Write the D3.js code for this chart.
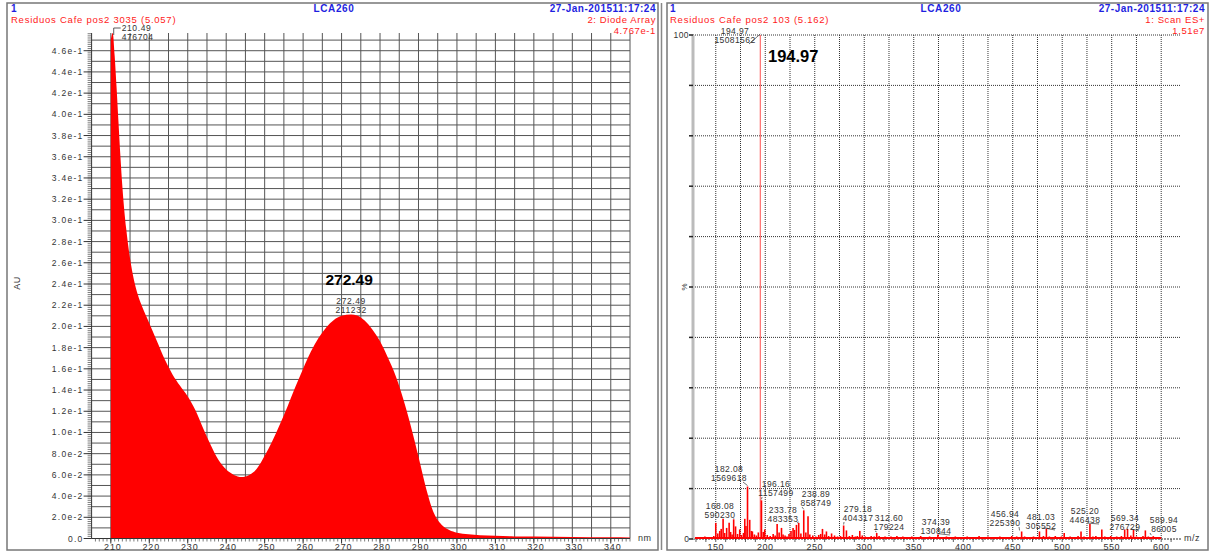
<!DOCTYPE html>
<html><head><meta charset="utf-8">
<script src="https://cdn.jsdelivr.net/npm/d3@7"></script>
<style>
body{margin:0;background:#fff;}
text{font-family:"Liberation Sans",Arial,sans-serif;}
</style></head>
<body><svg id="c" width="1211" height="552"></svg>
<script>
// ---------- DATA ----------
// UV (diode array) spectrum: wavelength (nm) and absorbance (AU)
const uvWavelength = [210.0,210.49,211.0,211.5,212.0,212.5,213.0,214.0,215.0,216.0,217.0,218.0,220.0,222.0,224.0,226.0,228.0,230.0,232.0,234.0,236.0,238.0,240.0,242.0,244.0,246.0,248.0,250.0,252.0,254.0,256.0,258.0,260.0,262.0,264.0,266.0,268.0,270.0,272.49,274.0,276.0,278.0,280.0,282.0,284.0,286.0,288.0,290.0,292.0,294.0,296.0,298.0,300.0,303.0,306.0,310.0,315.0,320.0,330.0,340.0,345.0];
const uvAbsorbance = [0.470,0.4767,0.455,0.425,0.392,0.360,0.332,0.292,0.264,0.244,0.230,0.220,0.203,0.186,0.169,0.155,0.144,0.134,0.121,0.104,0.088,0.074,0.065,0.060,0.058,0.060,0.066,0.078,0.092,0.108,0.125,0.143,0.160,0.176,0.189,0.199,0.206,0.210,0.2112,0.2103,0.2055,0.197,0.186,0.171,0.154,0.132,0.106,0.077,0.047,0.024,0.013,0.008,0.0055,0.004,0.003,0.0025,0.002,0.0018,0.0015,0.0012,0.001];
const uvXTicks = [210,220,230,240,250,260,270,280,290,300,310,320,330,340];
const uvYTickValues = [0,0.02,0.04,0.06,0.08,0.10,0.12,0.14,0.16,0.18,0.20,0.22,0.24,0.26,0.28,0.30,0.32,0.34,0.36,0.38,0.40,0.42,0.44,0.46];
const uvYTickLabels = ["0.0","2.0e-2","4.0e-2","6.0e-2","8.0e-2","1.0e-1","1.2e-1","1.4e-1","1.6e-1","1.8e-1","2.0e-1","2.2e-1","2.4e-1","2.6e-1","2.8e-1","3.0e-1","3.2e-1","3.4e-1","3.6e-1","3.8e-1","4.0e-1","4.2e-1","4.4e-1","4.6e-1"];
const uvPeakNm = [210.49, 272.49];
const uvPeakHeight = ["476704", "211232"];

// Mass spectrum: m/z and relative intensity (%)
const msMz = [130,133,136,139,142,145,148,150,152,154,155.5,157.4,159,161,163.5,165,166.5,168.08,170,172,174.2,176,178,179.3,180.5,182.08,184.3,186,187,189,191,193,194.97,196.16,198,199.5,202,205,208,210,212,214,216.4,218,220,222,224,226,228.1,229.5,231.5,233.78,236,238.89,241,243.2,245,248,251,254,256,257.8,260,261.8,264,267,270,273,276,279.18,282,285,288,291,293,295.5,298,301,304,307,310,312.6,315,318,321,324,327,330,333,336,339,342,345,348,351,354,357,360,363,366,369,372,374.39,377,380,383,386,389,392,395,398,401,404,407,410,413,416,419,422,425,428,431,434,437,440,443,446,449,452,454,456.94,459,462,465,468,471,474,477,481.03,484,487,490,493,496,499.2,502,505,508,511,514,516,519,522,525.2,528,531,534,537.9,540,543,546,549,552,555,557,559.8,563.1,566,569.34,572,575,578,581.6,584,587,589.94,592,595,598];
const msPct = [0.3,0.4,0.3,0.5,0.4,0.3,0.6,3.2,1.1,1.6,2.0,4.0,1.2,2.2,3.2,1.4,0.9,3.91,2.5,1.0,1.9,0.8,1.2,4.0,2.6,10.41,3.8,1.6,1.5,0.9,0.7,1.3,100,7.67,1.4,1.9,0.8,0.6,1.0,0.7,3.0,1.3,2.2,0.9,0.7,0.5,1.0,1.6,2.2,1.8,2.8,3.20,1.1,5.69,1.3,4.5,0.9,0.7,0.5,0.8,1.0,2.0,0.9,1.5,0.6,1.1,0.7,0.5,0.6,2.68,1.7,0.6,0.8,0.5,0.6,1.6,0.7,0.5,0.4,0.6,0.5,1.19,0.6,0.4,0.5,0.3,0.5,0.4,0.6,0.3,0.5,0.4,0.3,0.5,0.4,0.3,0.6,0.4,0.3,0.5,0.4,0.3,0.87,0.4,0.3,0.5,0.3,0.4,0.5,0.3,0.4,0.3,0.5,0.4,0.3,0.4,0.6,0.3,0.4,0.5,0.3,0.4,0.3,0.5,0.4,0.3,0.4,0.6,0.3,0.5,0.4,1.49,0.5,0.4,0.3,0.5,0.4,1.5,0.6,2.03,0.5,0.4,0.6,0.3,0.5,1.2,0.4,0.5,0.3,0.4,0.6,1.5,0.5,0.4,2.96,0.5,0.6,0.4,1.9,0.5,0.4,0.6,0.3,0.5,0.4,0.6,1.9,2.0,0.7,1.83,0.5,0.4,0.6,1.7,0.5,0.4,0.57,0.4,0.3,0.2];
const msXTicks = [150,200,250,300,350,400,450,500,550,600];
const msPeakMz = [194.97,182.08,196.16,168.08,233.78,238.89,279.18,312.60,374.39,456.94,481.03,525.20,569.34,589.94];
const msPeakPct = [100,10.41,7.67,3.91,3.20,5.69,2.68,1.19,0.87,1.49,2.03,2.96,1.83,0.57];
const msPeakCounts = ["15081562","1569618","1157499","590230","483353","858749","404317","179224","130844","225390","305552","446438","276729","86005"];

// ---------- LAYOUT (positions / styles only) ----------
const blue = "#1f1fe0", red = "#ff1a1a", dark = "#333";
const svg = d3.select("#c");

// panel frames
svg.append("rect").attr("x",7).attr("y",3).attr("width",651).attr("height",547)
  .attr("fill","none").attr("stroke","#777").attr("stroke-width",1.5);
svg.append("rect").attr("x",667).attr("y",3).attr("width",541).attr("height",547)
  .attr("fill","none").attr("stroke","#777").attr("stroke-width",1.5);
svg.append("line").attr("x1",661.5).attr("x2",661.5).attr("y1",3).attr("y2",550).attr("stroke","#888").attr("stroke-width",1.5);

function txt(x,y,s,o){
  const t = svg.append("text").attr("x",x).attr("y",y).text(s)
    .attr("font-size",o.size||10).attr("fill",o.fill||dark)
    .attr("text-anchor",o.anchor||"start");
  if(o.bold) t.attr("font-weight","bold");
  if(o.ls) t.attr("letter-spacing",o.ls);
  return t;
}

// ===== LEFT: UV spectrum =====
const uvX = d3.scaleLinear().domain([205,345]).range([91.6,630]);
const uvY = d3.scaleLinear().domain([0,0.4767]).range([538.5,33]);

txt(11,12,"1",{fill:blue,bold:true,size:10});
txt(334,12,"LCA260",{fill:blue,bold:true,size:10,anchor:"middle",ls:0.6});
txt(656,12,"27-Jan-201511:17:24",{fill:blue,bold:true,size:10,anchor:"end",ls:0.5});
txt(11,22.5,"Residuos Cafe pos2 3035 (5.057)",{fill:red,size:9.5,ls:0.75});
txt(656,22.5,"2: Diode Array",{fill:red,size:9.5,anchor:"end",ls:0.6});
txt(656,33.5,"4.767e-1",{fill:red,size:9.5,anchor:"end",ls:0.6});

const gUV = svg.append("g");
// grid
const uvVGrid = d3.range(210,346,5);
gUV.selectAll(".vg").data(uvVGrid).join("line")
  .attr("x1",d=>uvX(d)).attr("x2",d=>uvX(d)).attr("y1",uvY(0.4767)).attr("y2",uvY(0))
  .attr("stroke","#555").attr("stroke-width",1);
const uvHGrid = d3.range(0.01,0.475,0.01);
gUV.selectAll(".hg").data(uvHGrid).join("line")
  .attr("x1",uvX(205)).attr("x2",uvX(345)).attr("y1",d=>uvY(d)).attr("y2",d=>uvY(d))
  .attr("stroke","#555").attr("stroke-width",1);

// area
const uvData = uvWavelength.map((w,i)=>[w,uvAbsorbance[i]]);
gUV.append("path").datum(uvData)
  .attr("d",d3.area().x(d=>uvX(d[0])).y0(uvY(0)).y1(d=>uvY(d[1])).curve(d3.curveMonotoneX))
  .attr("fill","#ff0000");

// axes
gUV.append("line").attr("x1",uvX(205)).attr("x2",uvX(205)).attr("y1",uvY(0.4767)).attr("y2",uvY(0)).attr("stroke","#333");
gUV.append("line").attr("x1",uvX(205)).attr("x2",uvX(345)).attr("y1",uvY(0)).attr("y2",uvY(0)).attr("stroke","#333");
// y ruler minor
gUV.selectAll(".ym").data(d3.range(0,0.4767,0.002)).join("line")
  .attr("x1",uvX(205)-4).attr("x2",uvX(205)).attr("y1",d=>uvY(d)).attr("y2",d=>uvY(d))
  .attr("stroke","#444").attr("stroke-width",0.7);
gUV.selectAll(".yM").data(uvYTickValues).join("line")
  .attr("x1",uvX(205)-8).attr("x2",uvX(205)).attr("y1",d=>uvY(d)).attr("y2",d=>uvY(d))
  .attr("stroke","#333");
gUV.selectAll(".yl").data(uvYTickValues).join("text")
  .attr("x",uvX(205)-8).attr("y",d=>uvY(d)+3).attr("text-anchor","end")
  .attr("font-size",8.5).attr("letter-spacing",1.3).attr("fill",dark)
  .text((d,i)=>uvYTickLabels[i]);
// x ruler
gUV.selectAll(".xm").data(d3.range(206,346,1)).join("line")
  .attr("x1",d=>uvX(d)).attr("x2",d=>uvX(d)).attr("y1",uvY(0)).attr("y2",uvY(0)+3)
  .attr("stroke","#444").attr("stroke-width",0.7);
gUV.selectAll(".xM").data(uvXTicks).join("line")
  .attr("x1",d=>uvX(d)).attr("x2",d=>uvX(d)).attr("y1",uvY(0)).attr("y2",uvY(0)+5)
  .attr("stroke","#333");
gUV.selectAll(".xl").data(uvXTicks).join("text")
  .attr("x",d=>uvX(d)+2).attr("y",550).attr("text-anchor","middle")
  .attr("font-size",9).attr("letter-spacing",0.8).attr("fill",dark).text(d=>d);
txt(638,541,"nm",{size:9,ls:0.5});
txt(0,0,"AU",{size:9,ls:0.5}).attr("transform","translate(20,283) rotate(-90)").attr("text-anchor","middle");

// peak labels
// 210.49
txt(uvX(210.49)+9,30.5,String(uvPeakNm[0]),{size:8.5,ls:0.6});
txt(uvX(210.49)+9,39.5,uvPeakHeight[0],{size:8.5,ls:0.6});
gUV.append("path").attr("d",`M${uvX(210.49)+1},${uvY(0.4767)+2}V28H${uvX(210.49)+8}`).attr("fill","none").attr("stroke","#333").attr("stroke-width",0.8);
// 272.49
txt(uvX(272.49),304,String(uvPeakNm[1]),{size:8.5,ls:0.6,anchor:"middle"});
txt(uvX(272.49),313,uvPeakHeight[1],{size:8.5,ls:0.6,anchor:"middle"});
txt(uvX(272.49)-2,285,String(uvPeakNm[1]),{size:15.5,bold:true,anchor:"middle",fill:"#000"});

// ===== RIGHT: Mass spectrum =====
const msX = d3.scaleLinear().domain([127,620]).range([693,1181]);
const msY = d3.scaleLinear().domain([0,100]).range([539,35]);

txt(670,12,"1",{fill:blue,bold:true,size:10});
txt(941,12,"LCA260",{fill:blue,bold:true,size:10,anchor:"middle",ls:0.6});
txt(1205,12,"27-Jan-201511:17:24",{fill:blue,bold:true,size:10,anchor:"end",ls:0.5});
txt(670,22.5,"Residuos Cafe pos2 103 (5.162)",{fill:red,size:9.5,ls:0.75});
txt(1205,22.5,"1: Scan ES+",{fill:red,size:9.5,anchor:"end",ls:0.6});
txt(1205,33.5,"1.51e7",{fill:red,size:9.5,anchor:"end",ls:0.6});

const gMS = svg.append("g");
// dotted grid
gMS.selectAll(".vg").data(d3.range(150,601,25)).join("line")
  .attr("x1",d=>msX(d)).attr("x2",d=>msX(d)).attr("y1",msY(100)).attr("y2",msY(0))
  .attr("stroke","#333").attr("stroke-width",1).attr("stroke-dasharray","1,1");
gMS.selectAll(".hg").data(d3.range(10,101,10)).join("line")
  .attr("x1",msX(127)).attr("x2",msX(620)).attr("y1",d=>msY(d)).attr("y2",d=>msY(d))
  .attr("stroke","#333").attr("stroke-width",1).attr("stroke-dasharray","1,1");
// baseline dotted
gMS.append("line").attr("x1",msX(127)).attr("x2",msX(620)).attr("y1",msY(0)).attr("y2",msY(0))
  .attr("stroke","#333").attr("stroke-width",1.2).attr("stroke-dasharray","2,1");
// y axis
gMS.append("line").attr("x1",msX(127)).attr("x2",msX(127)).attr("y1",msY(100)).attr("y2",msY(0))
  .attr("stroke","#bbb").attr("stroke-width",3);
gMS.selectAll(".yt").data(d3.range(0,101,10)).join("line")
  .attr("x1",msX(127)-4).attr("x2",msX(127)).attr("y1",d=>msY(d)).attr("y2",d=>msY(d))
  .attr("stroke","#222").attr("stroke-width",1.5);
txt(msX(127)-4,msY(100)+3,"100",{size:8.5,anchor:"end",ls:0.4});
txt(msX(127)-4,msY(0)+3,"0",{size:8.5,anchor:"end"});
txt(0,0,"%",{size:8}).attr("transform",`translate(${msX(127)-6},${msY(50)}) rotate(-90)`).attr("text-anchor","middle");
// x ticks
gMS.selectAll(".xm").data(d3.range(130,620,10)).join("line")
  .attr("x1",d=>msX(d)).attr("x2",d=>msX(d)).attr("y1",msY(0)).attr("y2",msY(0)+3)
  .attr("stroke","#333").attr("stroke-width",0.8);
gMS.selectAll(".xl").data(msXTicks).join("text")
  .attr("x",d=>msX(d)).attr("y",550).attr("text-anchor","middle")
  .attr("font-size",9).attr("letter-spacing",0.5).attr("fill",dark).text(d=>d);
txt(1184,541,"m/z",{size:9,ls:0.5});

// bars
gMS.selectAll(".bar").data(msMz.map((m,i)=>[m,msPct[i]])).join("line")
  .attr("x1",d=>msX(d[0])).attr("x2",d=>msX(d[0])).attr("y1",msY(0)).attr("y2",d=>msY(d[1]))
  .attr("stroke",d=>d[1]>=100?"#ff5050":"#ff0000").attr("stroke-width",d=>d[1]>=100?1:1.6);
// base grass
gMS.append("line").attr("x1",msX(129)).attr("x2",msX(600)).attr("y1",msY(0)-1).attr("y2",msY(0)-1)
  .attr("stroke","#ff0000").attr("stroke-width",2);

// peak annotations: label centre positions (layout)
const msLabelPos = [[735,31],[729,469],[776,484],[720,506],[783,510],[816,494],[858,509],[889,518],[936,522],[1005,514],[1041,517],[1085,511],[1125,518],[1164,520]];
msPeakMz.forEach((m,i)=>{
  const [lx,ly] = msLabelPos[i];
  txt(lx,ly+3,m.toFixed(2),{size:8.5,anchor:"middle",ls:0.4});
  txt(lx,ly+11.5,msPeakCounts[i],{size:8.5,anchor:"middle",ls:0.4});
  const px = msX(m), py = msY(msPeakPct[i]);
  const sx = lx < px ? lx+14 : lx-14;
  gMS.append("path").attr("d",`M${sx},${ly+13}L${px},${py-1}`)
    .attr("stroke","#333").attr("stroke-width",0.7).attr("fill","none");
});
txt(768,62,"194.97",{size:16.5,bold:true,fill:"#000"});
</script></body></html>
